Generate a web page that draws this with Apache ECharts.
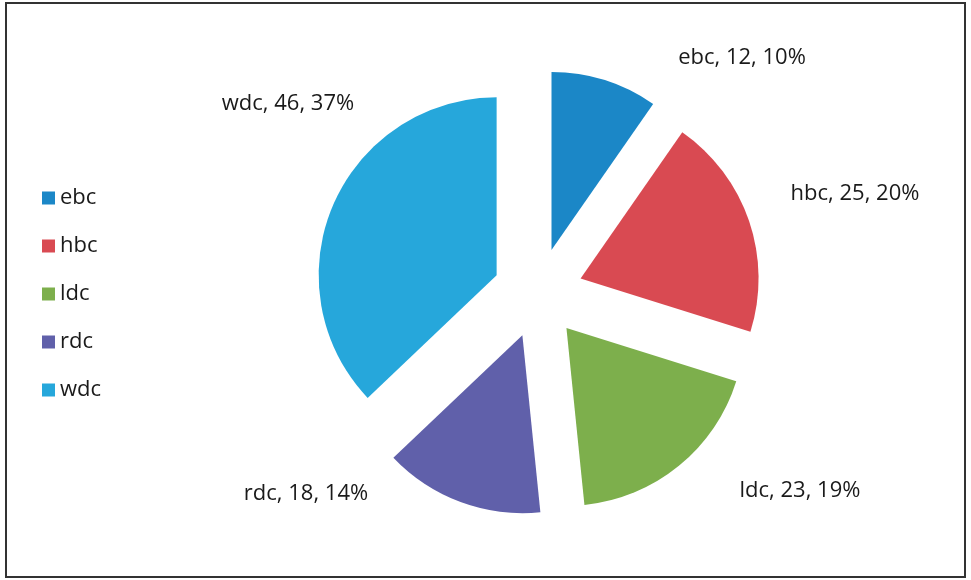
<!DOCTYPE html>
<html>
<head>
<meta charset="utf-8">
<script src="https://cdn.jsdelivr.net/npm/echarts@6/dist/echarts.min.js"></script>
<style>
  html, body { margin: 0; padding: 0; background: #fff; }
  #chart { width: 971px; height: 580px; }
</style>
</head>
<body>
<div id="chart"></div>
<script>
// slice names and values
const categories = ['ebc', 'hbc', 'ldc', 'rdc', 'wdc']
const values = [12, 25, 23, 18, 46]
const colors = ['#1B87C7', '#D94A52', '#7DAF4C', '#6060AA', '#26A7DB']

// where Excel put each data label (centre of the text)
const labelSpots = [[742, 58], [855, 194], [800, 491], [306, 494], [288, 104]]

let chart = echarts.init(document.getElementById('chart'))

let pieCenter = [538, 293]
let pieRadius = 178

let option = {
  animation: false,
  color: colors,
  textStyle: { fontFamily: 'Open Sans' },
  legend: {
    orient: 'vertical',
    left: 37,
    top: 180,
    itemWidth: 13,
    itemHeight: 13,
    itemGap: 22,
    icon: 'rect',
    selectedMode: false,
    textStyle: { fontSize: 22, lineHeight: 26, color: '#1a1a1a', fontFamily: 'Open Sans' },
    data: categories
  },
  graphic: [{
    type: 'rect',
    shape: { x: 6, y: 3, width: 959, height: 574 },
    style: { fill: 'none', stroke: '#333', lineWidth: 2 },
    silent: true
  }],
  series: [{
    // the exploded slices
    type: 'pie',
    center: pieCenter,
    radius: pieRadius,
    startAngle: 90,
    clockwise: true,
    selectedMode: 'multiple',
    selectedOffset: 45,
    emphasis: { disabled: true },
    itemStyle: { borderWidth: 0 },
    label: { show: false },
    labelLine: { show: false },
    data: categories.map(function (name, i) {
      return { name: name, value: values[i], selected: true }
    })
  }, {
    // same data again, invisible, only to carry the data labels
    type: 'pie',
    silent: true,
    center: pieCenter,
    radius: pieRadius,
    startAngle: 90,
    clockwise: true,
    percentPrecision: 0,
    emphasis: { disabled: true },
    itemStyle: { color: 'rgba(0,0,0,0)', borderWidth: 0 },
    label: {
      show: true,
      position: 'outside',
      formatter: '{b}, {c}, {d}%',
      fontSize: 22,
      color: '#1a1a1a',
      fontFamily: 'Open Sans'
    },
    labelLine: { show: false },
    labelLayout: function (params) {
      let p = labelSpots[params.dataIndex]
      return { x: p[0], y: p[1], align: 'center', verticalAlign: 'middle' }
    },
    data: categories.map(function (name, i) {
      return { name: name, value: values[i] }
    })
  }]
}

chart.setOption(option)
</script>
</body>
</html>
